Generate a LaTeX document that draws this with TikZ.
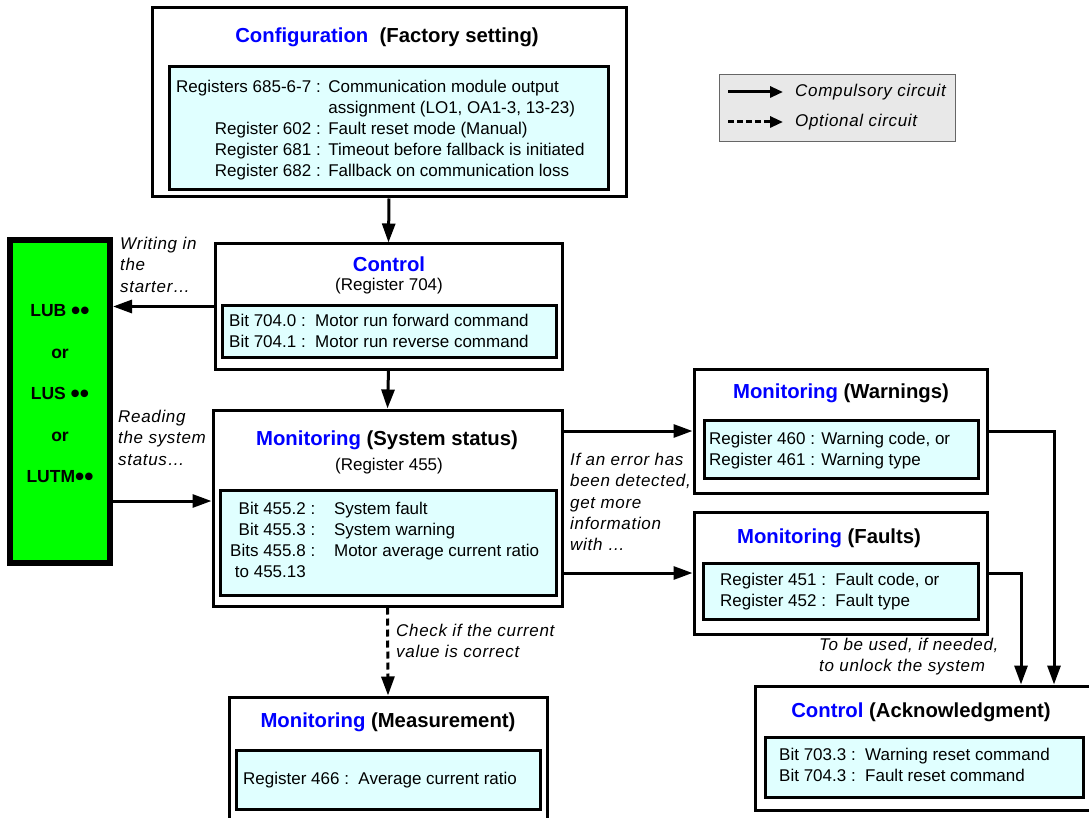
\documentclass[tikz,border=0pt]{standalone}
\usepackage{fontspec}
\setmainfont{Liberation Sans}
\newfontfamily\notefont[LetterSpace=4]{Liberation Sans}
\usetikzlibrary{arrows.meta}
\definecolor{innerfill}{RGB}{224,255,255}
\definecolor{boxgreen}{RGB}{0,255,0}
\definecolor{titleblue}{RGB}{0,0,255}
\definecolor{legfill}{RGB}{232,232,232}
\newcommand{\bigdots}{\raisebox{-2.8pt}{\scalebox{1.5}{••}}}
\begin{document}
\begin{tikzpicture}[x=1pt,y=-1pt,
 outerbox/.style={draw, line width=3pt, fill=white, inner sep=0pt},
 innerbox/.style={draw, line width=3pt, fill=innerfill, inner sep=0pt},
 bodytext/.style={font=\fontsize{17}{21}\selectfont, inner sep=0pt, anchor=west, align=left},
 titletext/.style={font=\fontsize{20.3}{24}\selectfont\bfseries, inner sep=0pt},
 subtext/.style={font=\fontsize{17}{21}\selectfont, inner sep=0pt},
 note/.style={font=\notefont\fontsize{17}{21.3}\selectfont\itshape, inner sep=0pt, align=left, anchor=north west},
 greentext/.style={font=\fontsize{17.5}{21}\selectfont\bfseries, inner sep=0pt},
 conn/.style={line width=3pt, -{Triangle[length=19pt,width=13pt]}},
 optconn/.style={conn, dash pattern=on 7pt off 4pt},
]
\useasboundingbox (0,0) rectangle (1089,818);
\clip (0,0) rectangle (1089,818);

% ---------- Configuration ----------
\node[outerbox, minimum width=474pt, minimum height=189pt] (cfg) at (389,102.5) {};
\node[titletext] (cfgT) at (387,37) {\textcolor{titleblue}{Configuration}\ \ (Factory setting)};
\node[innerbox, minimum width=439pt, minimum height=123pt] (cfgI) at (388.5,128.5) {};
\node[bodytext] (cfgX) at (176,130.5) {\begin{tabular}{@{}r@{\ :\ \,}l@{}}
Registers 685-6-7 & Communication module output\\
\multicolumn{1}{@{}r@{\hspace{14.5pt}}}{} & assignment (LO1, OA1-3, 13-23)\\
Register 602 & Fault reset mode (Manual)\\
Register 681 & Timeout before fallback is initiated\\
Register 682 & Fallback on communication loss
\end{tabular}};

% ---------- Legend ----------
\node[draw=black!60, line width=0.8pt, fill=legfill, minimum width=236pt, minimum height=67pt, inner sep=0pt] (leg) at (837,107.5) {};
\coordinate (l1a) at (728,92); \coordinate (l1b) at (783,92);
\coordinate (l2a) at (728,122); \coordinate (l2b) at (783,122);
\draw[line width=3pt, -{Triangle[length=13pt,width=11pt]}] (l1a) -- (l1b);
\draw[line width=3pt, dash pattern=on 6pt off 3pt, -{Triangle[length=13pt,width=11pt]}] (l2a) -- (l2b);
\node[note, anchor=west] (leg1) at (795,92) {Compulsory circuit};
\node[note, anchor=west] (leg2) at (795,122) {Optional circuit};

% ---------- Starter (green) ----------
\node[draw, line width=6pt, fill=boxgreen, minimum width=100pt, minimum height=323pt, inner sep=0pt] (grn) at (60,401.5) {};
\node[greentext] (g1) at (60,312) {LUB \bigdots};
\node[greentext] (g2) at (60,354) {or};
\node[greentext] (g3) at (60,395) {LUS \bigdots};
\node[greentext] (g4) at (60,437) {or};
\node[greentext] (g5) at (60,478) {LUTM\bigdots};

% ---------- Control ----------
\node[outerbox, minimum width=347pt, minimum height=125pt] (ctl) at (388.5,306.5) {};
\node[titletext] (ctlT) at (389,264) {\textcolor{titleblue}{Control}};
\node[subtext] (ctlS) at (389,286) {(Register 704)};
\node[innerbox, minimum width=334pt, minimum height=52pt] (ctlI) at (389,331) {};
\node[bodytext] (ctlX) at (229,333) {\begin{tabular}{@{}l@{ :\ \ }l@{}}
Bit 704.0 & Motor run forward command\\
Bit 704.1 & Motor run reverse command
\end{tabular}};

% ---------- Monitoring (System status) ----------
\node[outerbox, minimum width=349pt, minimum height=196pt] (mon) at (387.5,508) {};
\node[titletext] (monT) at (387,440) {\textcolor{titleblue}{Monitoring}\ (System status)};
\node[subtext] (monS) at (389,466) {(Register 455)};
\node[innerbox, minimum width=336pt, minimum height=105pt] (monI) at (388,542.5) {};
\node[bodytext] (monX) at (230,542) {\begin{tabular}{@{}r@{ :\ \ \ \ }l@{}}
Bit 455.2 & System fault\\
Bit 455.3 & System warning\\
Bits 455.8 & Motor average current ratio\\
\multicolumn{2}{@{}l@{}}{\ to 455.13}
\end{tabular}};

% ---------- Monitoring (Warnings) ----------
\node[outerbox, minimum width=293pt, minimum height=124pt] (wrn) at (840.5,431) {};
\node[titletext] (wrnT) at (841,393) {\textcolor{titleblue}{Monitoring}\ (Warnings)};
\node[innerbox, minimum width=274pt, minimum height=58pt] (wrnI) at (841,449) {};
\node[bodytext] (wrnX) at (709,450.5) {\begin{tabular}{@{}l@{ : }l@{}}
Register 460 & Warning code, or\\
Register 461 & Warning type
\end{tabular}};

% ---------- Monitoring (Faults) ----------
\node[outerbox, minimum width=293pt, minimum height=122pt] (flt) at (840.5,573) {};
\node[titletext] (fltT) at (829,538) {\textcolor{titleblue}{Monitoring}\ (Faults)};
\node[innerbox, minimum width=275pt, minimum height=56pt] (fltI) at (840.5,591) {};
\node[bodytext] (fltX) at (720,592) {\begin{tabular}{@{}l@{\ :\ \ }l@{}}
Register 451 & Fault code, or\\
Register 452 & Fault type
\end{tabular}};

% ---------- Monitoring (Measurement) ----------
\node[outerbox, minimum width=318pt, minimum height=133pt] (mea) at (388,763.5) {};
\node[titletext] (meaT) at (388,722) {\textcolor{titleblue}{Monitoring}\ (Measurement)};
\node[innerbox, minimum width=304pt, minimum height=59pt] (meaI) at (388,779.5) {};
\node[bodytext] (meaX) at (243,780) {Register 466 :\ \ Average current ratio};

% ---------- Control (Acknowledgment) ----------
\node[outerbox, minimum width=340pt, minimum height=124pt] (ack) at (925,748) {};
\node[titletext] (ackT) at (921,712) {\textcolor{titleblue}{Control}\ (Acknowledgment)};
\node[innerbox, minimum width=318pt, minimum height=60pt] (ackI) at (924,767) {};
\node[bodytext] (ackX) at (779,767) {\begin{tabular}{@{}l@{ :\ \ }l@{}}
Bit 703.3 & Warning reset command\\
Bit 704.3 & Fault reset command
\end{tabular}};

% ---------- Connectors ----------
\draw[conn] (cfg.south) -- (ctl.north);
\draw[conn] (ctl.west) -- (ctl.west -| grn.east);
\draw[conn] (ctl.south) -- (mon.north);
\coordinate (rd) at (0,501);
\draw[conn] (grn.east |- rd) -- (mon.west |- rd);
\draw[conn] (wrn.west -| mon.east) -- (wrn.west);
\draw[conn] (flt.west -| mon.east) -- (flt.west);
\coordinate (wx) at (1054,0);
\coordinate (fx) at (1021,0);
\draw[conn] (wrn.east) -| (ack.north -| wx);
\draw[conn] (flt.east) -| (ack.north -| fx);
\draw[optconn] (mon.south) -- (mea.north);

% ---------- Notes ----------
\node[note] (n1) at (120,237) {Writing in\\the\\starter…};
\node[note] (n2) at (118,410) {Reading\\the system\\status…};
\node[note] (n3) at (570,453) {If an error has\\been detected,\\get more\\information\\with …};
\node[note] (n4) at (396,624) {Check if the current\\value is correct};
\node[note] (n5) at (819,638) {To be used, if needed,\\to unlock the system};
\end{tikzpicture}
\end{document}
